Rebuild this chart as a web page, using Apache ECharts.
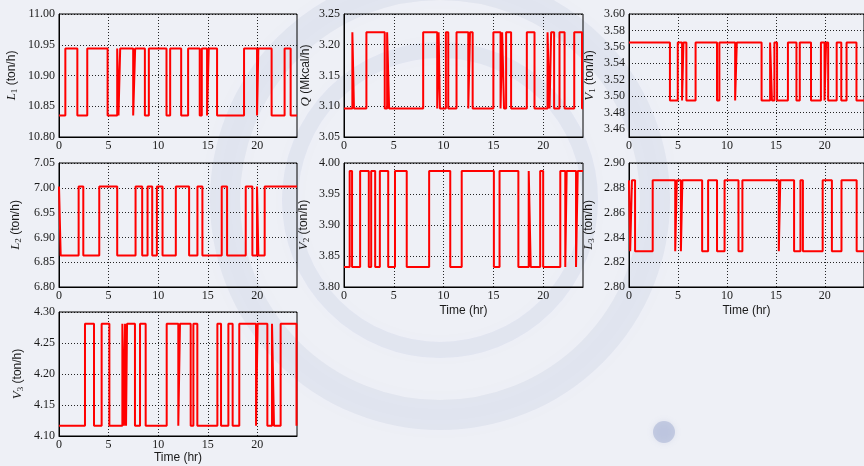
<!DOCTYPE html>
<html>
<head>
<meta charset="utf-8">
<script src="https://cdn.jsdelivr.net/npm/echarts@6/dist/echarts.min.js"></script>
<style>
  html, body { margin: 0; padding: 0; background: #eef0f6; }
  #chart { width: 864px; height: 466px; }
</style>
</head>
<body>
<div id="chart"></div>
<script>
// x ticks (hours)
const timeTicks = [0, 5, 10, 15, 20]

// y ticks per panel
const l1Ticks = [10.80, 10.85, 10.90, 10.95, 11.00]
const qTicks = [3.05, 3.10, 3.15, 3.20, 3.25]
const v1Ticks = [3.46, 3.48, 3.50, 3.52, 3.54, 3.56, 3.58, 3.60]
const l2Ticks = [6.80, 6.85, 6.90, 6.95, 7.00, 7.05]
const v2Ticks = [3.80, 3.85, 3.90, 3.95, 4.00]
const l3Ticks = [2.80, 2.82, 2.84, 2.86, 2.88, 2.90]
const v3Ticks = [4.10, 4.15, 4.20, 4.25, 4.30]

// two levels per signal [low, high]
const l1Levels = [10.835, 10.944]
const qLevels = [3.0965, 3.2203]
const v1Levels = [3.4944, 3.5652]
const l2Levels = [6.8633, 7.0028]
const v2Levels = [3.8324, 3.987]
const l3Levels = [2.8288, 2.886]
const v3Levels = [4.1167, 4.2812]

// switching times (hr) and the state held from that time on (0 = low, 1 = high)
const l1Times = [0, 0.64, 1.85, 2.85, 4.9, 5.87, 6.0, 6.17, 7.48, 7.68, 8.66, 9.06, 10.84, 11.21, 12.32, 13.02, 14.19, 14.4, 14.93, 15.1, 15.94, 18.66, 19.97, 20.1, 21.44, 22.75, 23.36]
const l1State = [0, 1, 0, 1, 0, 1, 0, 1, 0, 1, 0, 1, 0, 1, 0, 1, 0, 1, 0, 1, 0, 1, 0, 1, 0, 1, 0]

const qTimes = [0, 0.84, 1.0, 2.25, 4.09, 4.33, 4.53, 7.95, 9.36, 9.5, 9.63, 10.23, 10.47, 11.3, 12.48, 12.65, 12.92, 15.0, 15.72, 15.88, 16.07, 16.28, 16.78, 18.36, 19.13, 20.44, 20.64, 20.8, 21.1, 21.64, 22.15, 23.12, 23.9]
const qState = [0, 1, 0, 1, 0, 1, 0, 1, 0, 1, 0, 1, 0, 1, 0, 1, 0, 1, 0, 1, 0, 1, 0, 1, 0, 1, 0, 1, 0, 1, 0, 1, 0]

const v1Times = [0, 4.18, 4.98, 5.42, 5.56, 5.86, 6.8, 8.99, 9.23, 10.84, 11.01, 13.54, 14.41, 14.6, 14.85, 15.12, 16.23, 17.1, 17.44, 18.59, 19.6, 19.97, 20.13, 20.34, 21.21, 21.68, 22.22, 23.23]
const v1State = [1, 0, 1, 0, 1, 0, 1, 0, 1, 0, 1, 0, 1, 0, 1, 0, 1, 0, 1, 0, 1, 0, 1, 0, 1, 0, 1, 0]

const l2Times = [0, 0.17, 1.98, 2.45, 4.06, 5.87, 7.72, 8.39, 8.93, 9.4, 9.87, 10.44, 11.78, 13.12, 13.96, 14.46, 16.41, 16.95, 18.83, 19.5, 19.97, 20.1, 20.74]
const l2State = [1, 0, 1, 0, 1, 0, 1, 0, 1, 0, 1, 0, 1, 0, 1, 0, 1, 0, 1, 0, 1, 0, 1]

const v2Times = [0, 0.57, 0.81, 1.62, 2.49, 2.73, 3.13, 3.6, 4.44, 5.12, 6.3, 8.55, 10.67, 11.82, 15.05, 15.62, 17.51, 18.55, 18.75, 19.7, 20.0, 21.72, 22.22, 22.36, 23.3, 23.47]
const v2State = [0, 1, 0, 1, 0, 1, 0, 1, 0, 1, 0, 1, 0, 1, 0, 1, 0, 1, 0, 1, 0, 1, 0, 1, 0, 1]

const l3Times = [0, 0.12, 0.3, 0.62, 2.42, 4.72, 4.88, 5.3, 5.45, 7.47, 8.08, 8.99, 9.76, 11.18, 11.58, 15.3, 15.45, 16.86, 17.51, 17.76, 19.78, 20.72, 21.7, 23.25]
const l3State = [1, 0, 1, 0, 1, 0, 1, 0, 1, 0, 1, 0, 1, 0, 1, 0, 1, 0, 1, 0, 1, 0, 1, 0]

const v3Times = [0, 2.62, 3.53, 4.3, 5.08, 6.39, 6.55, 6.66, 6.76, 6.86, 7.66, 8.17, 8.74, 10.86, 12.03, 12.2, 13.28, 13.55, 13.95, 15.97, 16.34, 17.08, 17.51, 18.18, 19.87, 20.03, 21.01, 21.48, 21.68, 22.35, 23.95]
const v3State = [0, 1, 0, 1, 0, 1, 0, 1, 0, 1, 0, 1, 0, 1, 0, 1, 0, 1, 0, 1, 0, 1, 0, 1, 0, 1, 0, 1, 0, 1, 0]

const tEnd = 24

const makeSteps = (times, states, levels) => {
    const pts = times.map((t, i) => [t, levels[states[i]]])
    pts.push([tEnd, levels[states[states.length - 1]]])
    return pts
}

const serif = 'Liberation Serif'
const sans = 'Liberation Sans'
const ink = '#1a1a1a'
const mark = 'rgba(140,155,200,0.12)'

const nameRich = {
    v: { fontFamily: serif, fontStyle: 'italic', fontSize: 13, color: ink, lineHeight: 15 },
    s: { fontFamily: serif, fontSize: 9, color: ink, verticalAlign: 'bottom', lineHeight: 11 },
    t: { fontFamily: sans, fontSize: 12, color: ink, lineHeight: 15 }
}

// one entry per panel
const panels = [
    { box: [59, 14, 238, 123], name: '{v|L}{s|1}{t| (ton/h)}', gap: 40, ylim: [10.80, 11.00], ticks: l1Ticks, times: l1Times, state: l1State, levels: l1Levels, xname: '' },
    { box: [344, 14, 239, 123], name: '{v|Q}{t| (Mkcal/h)}', gap: 31, ylim: [3.05, 3.25], ticks: qTicks, times: qTimes, state: qState, levels: qLevels, xname: '' },
    { box: [629, 14, 238, 123], name: '{v|V}{s|1}{t| (ton/h)}', gap: 32, ylim: [3.45, 3.60], ticks: v1Ticks, times: v1Times, state: v1State, levels: v1Levels, xname: '' },
    { box: [59, 163, 238, 124], name: '{v|L}{s|2}{t| (ton/h)}', gap: 36, ylim: [6.80, 7.05], ticks: l2Ticks, times: l2Times, state: l2State, levels: l2Levels, xname: '' },
    { box: [344, 163, 239, 124], name: '{v|V}{s|2}{t| (ton/h)}', gap: 33, ylim: [3.80, 4.00], ticks: v2Ticks, times: v2Times, state: v2State, levels: v2Levels, xname: 'Time (hr)' },
    { box: [629, 163, 238, 124], name: '{v|L}{s|3}{t| (ton/h)}', gap: 33, ylim: [2.80, 2.90], ticks: l3Ticks, times: l3Times, state: l3State, levels: l3Levels, xname: 'Time (hr)' },
    { box: [59, 312, 238, 124], name: '{v|V}{s|3}{t| (ton/h)}', gap: 34, ylim: [4.10, 4.30], ticks: v3Ticks, times: v3Times, state: v3State, levels: v3Levels, xname: 'Time (hr)' }
]

const dotted = { show: true, lineStyle: { color: '#000', width: 1, type: [1, 2], opacity: 0.85 } }

const option = {
    backgroundColor: '#eef0f6',
    animation: false,
    // faint, blurred seal watermark behind the plots
    graphic: [
        { type: 'circle', z: -10, silent: true, shape: { cx: 440, cy: 200, r: 215 },
          style: { fill: 'none', stroke: mark, lineWidth: 30, shadowBlur: 25, shadowColor: mark } },
        { type: 'circle', z: -10, silent: true, shape: { cx: 440, cy: 200, r: 150 },
          style: { fill: 'none', stroke: mark, lineWidth: 16, shadowBlur: 20, shadowColor: mark } },
        { type: 'circle', z: -10, silent: true, shape: { cx: 664, cy: 432, r: 11 },
          style: { fill: 'rgba(140,155,200,0.4)', shadowBlur: 6, shadowColor: 'rgba(140,155,200,0.4)' } }
    ],
    grid: panels.map(p => ({
        left: p.box[0], top: p.box[1], width: p.box[2], height: p.box[3],
        show: true, borderColor: '#000', borderWidth: 1, backgroundColor: 'transparent'
    })),
    xAxis: panels.map((p, i) => ({
        type: 'value', gridIndex: i, min: 0, max: tEnd,
        name: p.xname, nameLocation: 'middle', nameGap: i === 6 ? 16 : 18,
        nameTextStyle: { fontFamily: sans, fontSize: 12, color: ink },
        axisLine: { show: true, lineStyle: { color: '#000', width: 1 } },
        axisTick: { show: false, customValues: timeTicks },
        axisLabel: { customValues: timeTicks, fontFamily: serif, fontSize: 12, color: ink, margin: 3 },
        splitLine: dotted
    })),
    yAxis: panels.map((p, i) => ({
        type: 'value', gridIndex: i, min: p.ylim[0], max: p.ylim[1],
        name: p.name, nameLocation: 'middle', nameGap: p.gap,
        nameTextStyle: { rich: nameRich },
        axisLine: { show: true, lineStyle: { color: '#000', width: 1 } },
        axisTick: { show: false, customValues: p.ticks },
        axisLabel: { customValues: p.ticks, fontFamily: serif, fontSize: 12, color: ink, margin: 4,
            formatter: v => v.toFixed(2) },
        splitLine: dotted
    })),
    series: panels.map((p, i) => ({
        type: 'line', xAxisIndex: i, yAxisIndex: i, step: 'end',
        showSymbol: false, symbol: 'none',
        lineStyle: { color: '#ff0000', width: 2 },
        data: makeSteps(p.times, p.state, p.levels)
    }))
}

const myChart = echarts.init(document.getElementById('chart'), null, { renderer: 'canvas' })
myChart.setOption(option)
</script>
</body>
</html>
